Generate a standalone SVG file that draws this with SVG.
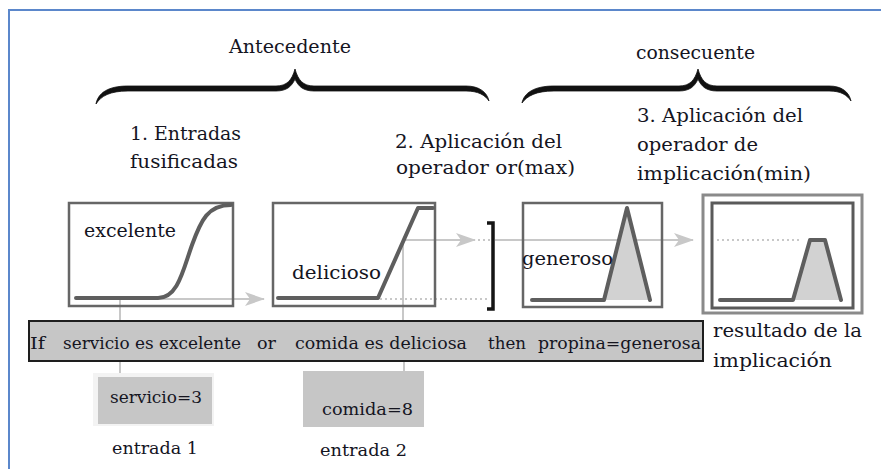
<svg xmlns="http://www.w3.org/2000/svg" width="881" height="469" viewBox="0 0 881 469">
<style>
text{font-family:"DejaVu Serif","Liberation Serif",serif;fill:#15151f}
.t19{font-size:19px}
.t17{font-size:17px}
.box{fill:none;stroke:#666;stroke-width:2.5}
.mf{fill:none;stroke:#5e5e5e;stroke-width:4;stroke-linejoin:round;stroke-linecap:round}
.area{fill:#d2d2d2;stroke:none}
.conn{fill:none;stroke:#c8c8c8;stroke-width:2}
.dot{fill:none;stroke:#c8c8c8;stroke-width:2;stroke-dasharray:2 3}
.brace{fill:#111;stroke:#111;stroke-width:0.8;stroke-linejoin:round}
.inp{fill:#c6c6c6}
</style>
<defs>
<marker id="ah" viewBox="0 0 20 14" refX="19" refY="7" markerWidth="20" markerHeight="14" markerUnits="userSpaceOnUse" orient="auto">
<path d="M0,0 L20,7 L0,14 L5,7 Z" fill="#c8c8c8"/>
</marker>
</defs>
<rect width="881" height="469" fill="#fff"/>
<g id="frame">
<path d="M9,469 L9,10 L881,10" fill="none" stroke="#5b87cb" stroke-width="2"/>
</g>

<g id="braces">
<path class="brace" d="M96,104 C98,93 108,86 128,86 L276,86 C287,86 292,80 295,69 C298,80 303,86 314,86 L466,86 C479,86 487,92 489,101 C485,95 478,91 466,91 L314,91 C303,91 298,86 295,79 C292,86 287,91 276,91 L128,91 C110,91 101,96 96,104 Z"/>
<path class="brace" d="M522,103 C524,93 534,86 554,86 L679,86 C690,86 695,80 698,69 C701,80 706,86 717,86 L829,86 C842,86 849,92 851,101 C847,95 841,91 829,91 L717,91 C706,91 701,86 698,79 C695,86 690,91 679,91 L554,91 C536,91 527,96 522,103 Z"/>
<text class="t19" x="229" y="53" textLength="122" lengthAdjust="spacingAndGlyphs">Antecedente</text>
<text class="t19" x="636" y="59" textLength="119" lengthAdjust="spacingAndGlyphs">consecuente</text>
</g>

<g id="step-labels">
<text class="t19" x="130" y="140" textLength="111" lengthAdjust="spacingAndGlyphs">1. Entradas</text>
<text class="t19" x="130" y="168" textLength="108" lengthAdjust="spacingAndGlyphs">fusificadas</text>
<text class="t19" x="395" y="148" textLength="167" lengthAdjust="spacingAndGlyphs">2. Aplicación del</text>
<text class="t19" x="396" y="174" textLength="179" lengthAdjust="spacingAndGlyphs">operador or(max)</text>
<text class="t19" x="637" y="122" textLength="166" lengthAdjust="spacingAndGlyphs">3. Aplicación del</text>
<text class="t19" x="637" y="151" textLength="121" lengthAdjust="spacingAndGlyphs">operador de</text>
<text class="t19" x="637" y="180" textLength="174" lengthAdjust="spacingAndGlyphs">implicación(min)</text>
</g>

<g id="connectors">
<line class="conn" x1="120" y1="299" x2="264" y2="299" marker-end="url(#ah)"/>
<line class="conn" x1="120" y1="299" x2="120" y2="321"/>
<line class="conn" x1="120" y1="361" x2="120" y2="373"/>
<line class="conn" x1="403" y1="240" x2="475" y2="240" marker-end="url(#ah)"/>
<line class="conn" x1="403" y1="240" x2="403" y2="321"/>
<line class="conn" x1="404" y1="361" x2="404" y2="371"/>
<line class="dot" x1="478" y1="240" x2="490" y2="240"/>
<line class="dot" x1="380" y1="299" x2="488" y2="299"/>
<line class="conn" x1="495" y1="240" x2="693" y2="240" marker-end="url(#ah)"/>
<line class="dot" x1="717" y1="240" x2="800" y2="240"/>
</g>

<g id="box-excelente">
<rect class="box" x="69" y="203" width="164" height="103"/>
<path class="mf" d="M76,298 L158,298 C178,298 183,270 192,245 C201,220 208,205 231,205"/>
<text class="t19" x="84" y="237" textLength="92" lengthAdjust="spacingAndGlyphs">excelente</text>
</g>

<g id="box-delicioso">
<rect class="box" x="273" y="203" width="162" height="103"/>
<path class="mf" d="M278,298 L378,298 L418,208 L433,208"/>
<text class="t19" x="292" y="279" textLength="89" lengthAdjust="spacingAndGlyphs">delicioso</text>
</g>

<g id="bracket">
<path d="M487,223 L493,223 L493,309 L487,309" fill="none" stroke="#151515" stroke-width="3.5"/>
</g>

<g id="box-generoso">
<rect class="box" x="523" y="203" width="139" height="104"/>
<polygon class="area" points="604,300 627,208 650,300"/>
<path class="mf" d="M532,300 L604,300 L627,208 L650,300"/>
<text class="t19" x="522" y="265" textLength="91" lengthAdjust="spacingAndGlyphs">generoso</text>
</g>

<g id="box-resultado">
<rect x="703" y="195" width="159" height="118" fill="none" stroke="#8a8a8a" stroke-width="3"/>
<rect x="712" y="203" width="141" height="105" fill="none" stroke="#5a5a5a" stroke-width="3"/>
<polygon class="area" points="793,300 810,240 825,240 841,300"/>
<path class="mf" d="M720,300 L793,300 L810,240 L825,240 L841,300"/>
<text class="t19" x="713" y="337" textLength="149" lengthAdjust="spacingAndGlyphs">resultado de la</text>
<text class="t19" x="713" y="367" textLength="119" lengthAdjust="spacingAndGlyphs">implicación</text>
</g>

<g id="rule">
<rect x="29" y="321" width="674" height="40" fill="#c6c6c6" stroke="#1e1e1e" stroke-width="2"/>
<text class="t17" x="30" y="349" textLength="15" lengthAdjust="spacingAndGlyphs">If</text>
<text class="t17" x="63" y="349" textLength="178" lengthAdjust="spacingAndGlyphs">servicio es excelente</text>
<text class="t17" x="257" y="349" textLength="19" lengthAdjust="spacingAndGlyphs">or</text>
<text class="t17" x="295" y="349" textLength="172" lengthAdjust="spacingAndGlyphs">comida es deliciosa</text>
<text class="t17" x="488" y="349" textLength="38" lengthAdjust="spacingAndGlyphs">then</text>
<text class="t17" x="538" y="349" textLength="163" lengthAdjust="spacingAndGlyphs">propina=generosa</text>
</g>

<g id="input-servicio">
<rect x="93" y="373" width="121" height="53" fill="#f3f3f3"/>
<rect class="inp" x="98" y="377" width="114" height="47"/>
<text class="t17" x="110" y="403" textLength="92" lengthAdjust="spacingAndGlyphs">servicio=3</text>
<text class="t17" x="112" y="454" textLength="86" lengthAdjust="spacingAndGlyphs">entrada 1</text>
</g>

<g id="input-comida">
<rect class="inp" x="303" y="371" width="121" height="56"/>
<text class="t17" x="322" y="415" textLength="91" lengthAdjust="spacingAndGlyphs">comida=8</text>
<text class="t17" x="320" y="456" textLength="87" lengthAdjust="spacingAndGlyphs">entrada 2</text>
</g>
</svg>
